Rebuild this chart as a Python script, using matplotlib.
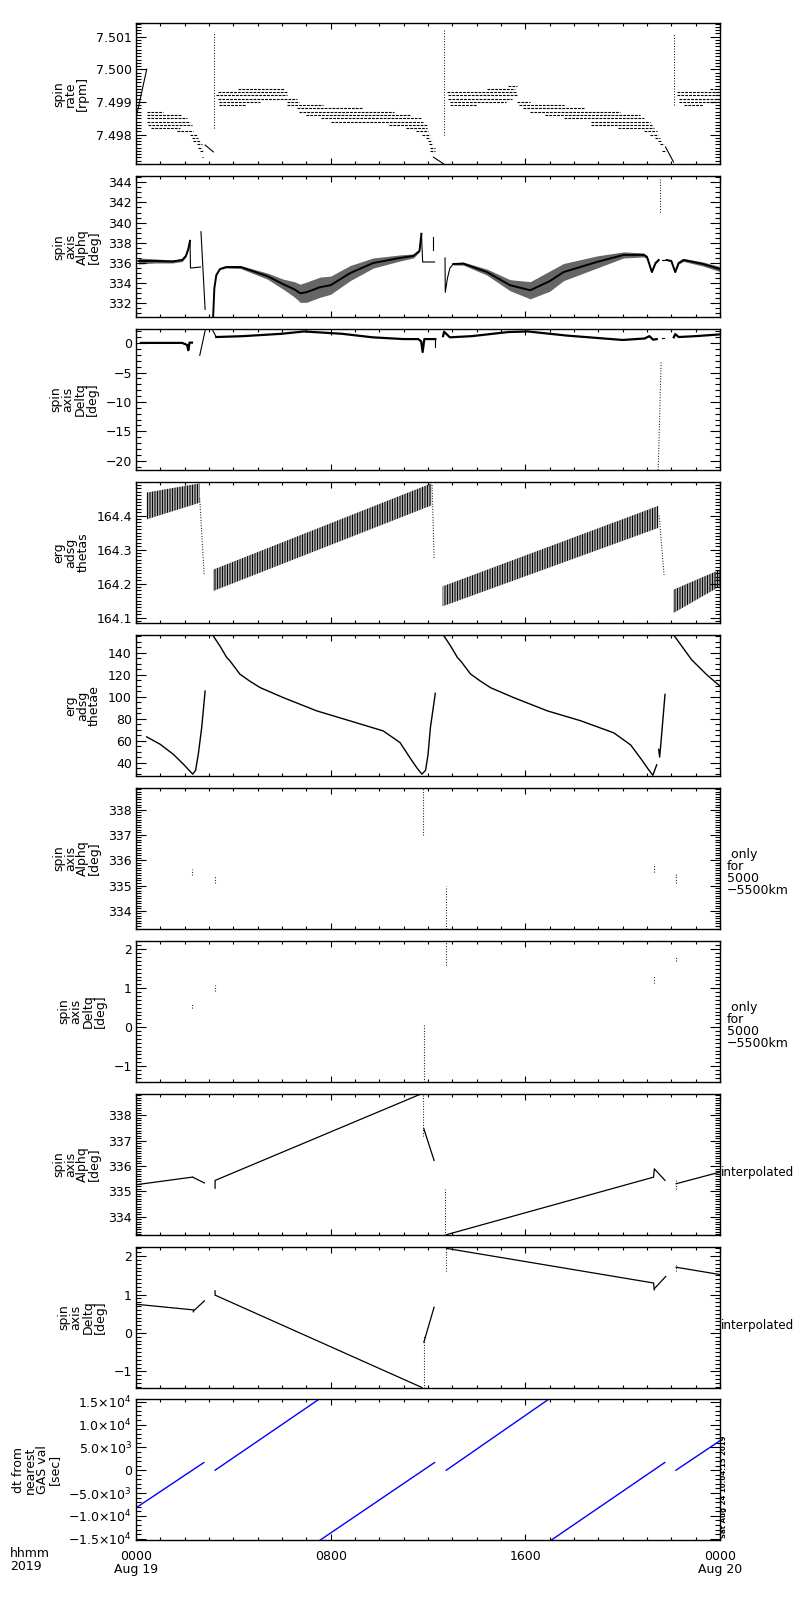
import matplotlib
matplotlib.use("Agg")
import matplotlib.pyplot as plt
from matplotlib.ticker import FixedLocator, MultipleLocator
import numpy as np

plt.rcParams['font.family'] = ['DejaVu Sans']
plt.rcParams['hatch.linewidth'] = 0.7

# ---------------- panel 1: spin rate [rpm] (quantised levels) ----------------
p1_ramp_t = [0.03, 0.44]
p1_ramp_v = [7.4986, 7.5000]
p1_level = [7.4987, 7.4986, 7.4985, 7.4984, 7.4983, 7.4982, 7.4981, 7.4980, 7.4979, 7.4978,
            7.4977, 7.4976, 7.4975, 7.4973,
            7.4994, 7.4993, 7.4992, 7.4991, 7.4990, 7.4989, 7.4990, 7.4989, 7.4988, 7.4987,
            7.4986, 7.4985, 7.4984, 7.4983, 7.4982, 7.4981, 7.4980, 7.4979, 7.4978, 7.4977,
            7.4976, 7.4975,
            7.4995, 7.4994, 7.4993, 7.4992, 7.4991, 7.4990, 7.4989, 7.4990, 7.4989, 7.4988,
            7.4987, 7.4986, 7.4985, 7.4984, 7.4983, 7.4982, 7.4981, 7.4980, 7.4979, 7.4978,
            7.4977, 7.4975,
            7.4994, 7.4993, 7.4992, 7.4991, 7.4990, 7.4989]
p1_t0 = [0.44, 0.44, 0.44, 0.44, 0.50, 0.60, 1.67, 2.20, 2.30, 2.36,
         2.49, 2.56, 2.63, 2.70,
         4.20, 3.38, 3.30, 3.38, 3.40, 3.40, 6.19, 6.20, 6.60, 6.70,
         7.00, 7.60, 8.00, 10.40, 11.10, 11.50, 11.75, 11.90, 12.00, 12.05,
         12.08, 12.08,
         15.30, 14.42, 12.77, 12.84, 12.84, 12.90, 12.90, 15.65, 15.72, 15.90,
         16.20, 16.80, 17.57, 18.70, 18.70, 19.80, 20.86, 21.13, 21.34, 21.47,
         21.54, 21.61,
         23.60, 22.23, 22.23, 22.30, 22.30, 22.50]
p1_t1 = [1.12, 1.88, 2.08, 2.22, 2.29, 1.81, 2.36, 2.49, 2.55, 2.63,
         2.70, 2.72, 2.77, 2.77,
         6.10, 6.19, 6.20, 6.60, 5.10, 4.50, 6.70, 7.70, 9.34, 10.60,
         11.30, 11.70, 11.80, 11.95, 11.95, 12.00, 12.08, 12.08, 12.15, 12.22,
         12.27, 12.30,
         15.65, 15.58, 15.65, 15.65, 15.45, 15.20, 14.00, 16.20, 17.57, 18.40,
         19.90, 20.70, 20.86, 21.13, 21.20, 21.27, 21.40, 21.47, 21.54, 21.61,
         21.68, 21.75,
         24.00, 24.00, 24.00, 24.00, 24.00, 23.30]
p1_solid_t = [[2.84, 3.18], [12.22, 12.63], [21.76, 22.09]]
p1_solid_v = [[7.49768, 7.49747], [7.49731, 7.49711], [7.49762, 7.49716]]
p1_spike_t = [3.22, 12.67, 22.13]
p1_spike_lo = [7.4982, 7.4980, 7.4989]
p1_spike_hi = [7.5011, 7.5012, 7.5011]

# ---------------- panel 2: spin axis alpha [deg] ----------------
p2_band_t = [[0.1, 0.8, 1.5, 1.9, 2.05, 2.15, 2.22],
             [3.17, 3.22, 3.3, 3.45, 3.7, 4.3, 5.4, 6.05, 6.5, 6.75, 7.0, 7.56, 8.0, 8.8,
              9.75, 10.85, 11.4, 11.65, 11.73],
             [13.04, 13.45, 14.42, 15.37, 16.2, 17.0, 17.57, 18.94, 20.04, 20.86, 21.0,
              21.2, 21.35, 21.48],
             [21.8, 22.0, 22.16, 22.3, 22.5, 23.3, 24.0]]
p2_band_v = [[336.2, 336.2, 336.15, 336.3, 336.7, 337.4, 338.2],
             [330.7, 333.5, 334.8, 335.4, 335.6, 335.6, 334.7, 333.9, 333.4, 333.0, 333.1,
              333.6, 333.8, 335.0, 336.0, 336.5, 336.7, 337.2, 338.9],
             [335.9, 335.94, 335.1, 333.8, 333.3, 334.2, 335.1, 336.1, 336.8, 336.8, 336.6,
              335.1, 336.0, 336.3],
             [336.3, 336.2, 335.1, 336.0, 336.3, 335.9, 335.4]]
p2_band_hw = [[0.3, 0.2, 0.15, 0.15, 0.1, 0.1, 0.05],
              [0, 0, 0, 0.05, 0.1, 0.15, 0.3, 0.5, 0.75, 0.9, 1.0, 1.0, 0.9, 0.75, 0.5,
               0.3, 0.2, 0.1, 0],
              [0.1, 0.15, 0.3, 0.55, 0.85, 1.0, 0.85, 0.6, 0.3, 0.2, 0.15, 0.05, 0.1, 0.1],
              [0.05, 0.05, 0.05, 0.1, 0.15, 0.2, 0.25]]
p2_line_t = [[2.22, 2.24, 2.65], [2.67, 2.84], [11.73, 11.78, 12.27], [12.2, 12.2],
             [12.7, 12.71, 12.8, 12.9, 13.04], [21.6, 21.75]]
p2_line_v = [[338.2, 335.5, 335.6], [339.1, 331.4], [338.9, 336.1, 336.1], [337.3, 338.6],
             [336.5, 333.1, 334.5, 335.5, 335.9], [336.3, 336.3]]
p2_spike_t = [21.52]
p2_spike_lo = [341.1]
p2_spike_hi = [344.4]

# ---------------- panel 3: spin axis delta [deg] ----------------
p3_t = [[0.2, 1.0, 1.9, 2.1, 2.15, 2.2, 2.3],
        [2.62, 2.86, 3.1, 3.3],
        [3.3, 4.4, 5.98, 6.9, 8.47, 9.72, 11.0, 11.6, 11.72, 11.78, 11.85, 12.3],
        [12.3, 12.3],
        [12.62, 12.66, 12.75, 12.9, 13.8, 15.3, 16.1, 17.7, 20.0, 20.9, 21.1, 21.25, 21.4],
        [21.62, 21.7],
        [22.1, 22.16, 22.3, 23.0, 24.0]]
p3_v = [[0.05, 0.05, 0.05, -0.3, -1.2, 0.1, 0.1],
        [-2.07, 2.5, 2.6, 1.05],
        [1.05, 1.2, 1.6, 2.0, 1.6, 1.0, 0.7, 0.7, 0.3, -1.5, 0.7, 0.7],
        [0.85, -0.6],
        [1.2, 1.95, 1.6, 1.0, 1.2, 1.9, 2.0, 1.3, 0.55, 0.8, 1.2, 0.6, 0.7],
        [0.95, 0.95],
        [1.0, 1.55, 1.05, 1.2, 1.5]]
p3_spike_t = [[21.58, 21.46]]
p3_spike_v = [[-3.3, -21.6]]

# ---------------- panel 4: erg adsg thetas ----------------
p4_band_t = [[0.44, 2.62], [3.17, 12.14], [12.6, 21.47], [22.08, 24.0]]
p4_band_lo = [[164.389, 164.438], [164.178, 164.43], [164.133, 164.364], [164.113, 164.192]]
p4_band_hi = [[164.468, 164.495], [164.241, 164.495], [164.192, 164.429], [164.182, 164.241]]
p4_drop_t = [[2.62, 2.8], [12.17, 12.25], [21.5, 21.7]]
p4_drop_v = [[164.45, 164.226], [164.49, 164.271], [164.40, 164.226]]

# ---------------- panel 5: erg adsg thetae ----------------
p5_t = [[0.44, 0.99, 1.53, 1.95, 2.33, 2.45, 2.56, 2.7, 2.84],
        [3.18, 3.45, 3.73, 3.86, 4.27, 4.68, 5.1, 6.05, 7.43, 8.8, 10.16, 10.85, 11.3,
         11.55, 11.75, 11.9, 12.0, 12.1, 12.3],
        [12.66, 12.93, 13.21, 13.34, 13.75, 14.16, 14.58, 15.53, 16.91, 18.28, 19.64, 20.33,
         20.8, 21.05, 21.24, 21.4],
        [21.48, 21.52, 21.6, 21.74],
        [22.13, 22.83, 23.45, 24.0]]
p5_v = [[63.4, 56.7, 47.6, 38.5, 29.5, 33, 47.6, 71.8, 105],
        [155, 146, 135.5, 132.5, 120.4, 114, 108.2, 99.1, 87, 77.9, 68.8, 58.2, 43, 35, 29.5,
         33, 47, 72, 103],
        [155, 146, 135.5, 132.5, 120.5, 114, 108, 99, 87, 78, 67, 56, 42, 34, 28.5, 38],
        [52, 45, 65, 102],
        [155, 133.6, 120, 109.5]]

# ---------------- panels 6/7: GAS values only for 5000-5500 km ----------------
p6_t = [2.32, 3.25, 11.8, 12.72, 21.3, 22.2]
p6_lo = [335.4, 335.1, 337.0, 333.3, 335.52, 335.08]
p6_hi = [335.65, 335.4, 338.86, 335.0, 335.86, 335.47]
p7_t = [2.32, 3.25, 11.83, 12.72, 21.3, 22.2]
p7_lo = [0.5, 0.93, -1.4, 1.6, 1.13, 1.69]
p7_hi = [0.62, 1.07, 0.05, 2.22, 1.32, 1.82]

# ---------------- panels 8/9: interpolated ----------------
p8_t = [[0, 2.31], [2.33, 2.81], [3.25, 3.25, 11.75], [11.83, 12.25],
        [12.77, 21.27, 21.3, 21.74], [22.2, 24.0]]
p8_v = [[335.26, 335.56], [335.56, 335.33], [335.12, 335.43, 338.86], [337.47, 336.22],
        [333.29, 335.56, 335.89, 335.43], [335.3, 335.76]]
p8_dot_t = [11.8, 12.69, 22.18]
p8_dot_lo = [337.2, 333.29, 335.1]
p8_dot_hi = [338.86, 335.1, 335.5]
p9_t = [[0, 2.36, 2.36], [2.36, 2.81], [3.25, 3.25, 3.3, 11.75], [11.83, 12.25],
        [12.77, 21.27, 21.3], [21.3, 21.77], [22.2, 24.0]]
p9_v = [[0.747, 0.60, 0.55], [0.57, 0.834], [1.097, 0.98, 0.97, -1.42], [-0.24, 0.67],
        [2.2, 1.30, 1.12], [1.15, 1.47], [1.71, 1.52]]
p9_dot_t = [11.83, 12.72, 22.2]
p9_dot_lo = [-1.42, 1.62, 1.60]
p9_dot_hi = [-0.05, 2.25, 1.77]

# ---------------- panel 10: dt from nearest GAS value [sec] ----------------
p10_t = [[0, 2.79], [3.25, 7.51], [7.55, 12.27], [12.75, 16.95], [17.05, 21.73], [22.19, 24.0]]
p10_v = [[-8235, 1691], [0, 15515], [-15368, 1691], [0, 15515], [-15368, 1691], [0, 6470]]

# ---------------- axes setup ----------------
ytitles = ["spin\nrate\n[rpm]", "spin\naxis\nAlphq\n[deg]", "spin\naxis\nDeltq\n[deg]",
           "erg\nadsg\nthetas", "erg\nadsg\nthetae", "spin\naxis\nAlphq\n[deg]",
           "spin\naxis\nDeltq\n[deg]", "spin\naxis\nAlphq\n[deg]", "spin\naxis\nDeltq\n[deg]",
           "dt from\nnearest\nGAS val\n[sec]"]
ylims = [(7.49709, 7.50141), (330.63, 344.6), (-21.6, 2.4), (164.084, 164.499), (27.9, 156.1),
         (333.29, 338.86), (-1.4, 2.22), (333.29, 338.86), (-1.42, 2.25), (-15368, 15515)]
yticks = [[7.498, 7.499, 7.500, 7.501], [332, 334, 336, 338, 340, 342, 344],
          [-20, -15, -10, -5, 0], [164.1, 164.2, 164.3, 164.4], [40, 60, 80, 100, 120, 140],
          [334, 335, 336, 337, 338], [-1, 0, 1, 2], [334, 335, 336, 337, 338], [-1, 0, 1, 2],
          [-15000, -10000, -5000, 0, 5000, 10000, 15000]]
ylabels = [["7.498", "7.499", "7.500", "7.501"], ["332", "334", "336", "338", "340", "342", "344"],
           ["\u221220", "\u221215", "\u221210", "\u22125", "0"],
           ["164.1", "164.2", "164.3", "164.4"], ["40", "60", "80", "100", "120", "140"],
           ["334", "335", "336", "337", "338"], ["\u22121", "0", "1", "2"],
           ["334", "335", "336", "337", "338"], ["\u22121", "0", "1", "2"],
           [r"$-$1.5$\times$10$^4$", r"$-$1.0$\times$10$^4$", r"$-$5.0$\times$10$^3$", "0",
            r"5.0$\times$10$^3$", r"1.0$\times$10$^4$", r"1.5$\times$10$^4$"]]
yminor = [0.0001, 0.5, 1, 0.01, 5, 0.1, 0.1, 0.1, 0.1, 1000]

fig = plt.figure(figsize=(8, 16), dpi=100)
axes = []
for i in range(10):
    top = 23.3 + i * 152.9
    ax = fig.add_axes([136 / 800, 1 - (top + 141) / 1600, 584 / 800, 141 / 1600])
    ax.set_xlim(0, 24)
    ax.set_ylim(*ylims[i])
    ax.xaxis.set_major_locator(FixedLocator([0, 8, 16, 24]))
    ax.xaxis.set_minor_locator(MultipleLocator(1))
    ax.set_yticks(yticks[i])
    ax.set_yticklabels(ylabels[i])
    ax.yaxis.set_minor_locator(MultipleLocator(yminor[i]))
    ax.tick_params(which='both', direction='in', top=True, right=True, labelsize=9, width=0.8)
    ax.tick_params(axis='y', which='major', length=7, pad=3)
    ax.tick_params(axis='y', which='minor', length=3.6)
    ax.tick_params(axis='x', which='major', length=4)
    ax.tick_params(axis='x', which='minor', length=2.5)
    for s in ax.spines.values():
        s.set_linewidth(1.0)
    ax.set_ylabel(ytitles[i], fontsize=9, linespacing=0.9, labelpad=5)
    if i < 9:
        ax.set_xticklabels([])
    axes.append(ax)

dash = (0, (2.5, 1.0))
dots = (0, (0.8, 1.6))

# panel 1
ax = axes[0]
ax.plot(p1_ramp_t, p1_ramp_v, color='k', lw=0.8)
ax.hlines(p1_level, p1_t0, p1_t1, colors='k', lw=0.8, linestyles=[dash])
for t, v in zip(p1_solid_t, p1_solid_v):
    ax.plot(t, v, color='k', lw=0.8)
ax.vlines(p1_spike_t, p1_spike_lo, p1_spike_hi, colors='k', lw=0.8, linestyles=[dots])

# panel 2
ax = axes[1]
for t, v, hw in zip(p2_band_t, p2_band_v, p2_band_hw):
    t, v, hw = np.array(t), np.array(v), np.array(hw)
    ax.fill_between(t, v - hw, v + hw, color='0.4', lw=0)
    ax.plot(t, v, color='k', lw=1.4)
for t, v in zip(p2_line_t, p2_line_v):
    ax.plot(t, v, color='k', lw=0.8)
ax.vlines(p2_spike_t, p2_spike_lo, p2_spike_hi, colors='k', lw=0.8, linestyles=[dots])

# panel 3
ax = axes[2]
for k, (t, v) in enumerate(zip(p3_t, p3_v)):
    ax.plot(t, v, color='k', lw=1.6 if k in (0, 2, 4, 6) else 0.8)
for t, v in zip(p3_spike_t, p3_spike_v):
    ax.plot(t, v, color='k', lw=0.8, ls=dots)

# panel 4
ax = axes[3]
for t, lo, hi in zip(p4_band_t, p4_band_lo, p4_band_hi):
    ax.fill_between(t, lo, hi, facecolor='white', edgecolor='k', hatch='||||||||||', lw=0)
for t, v in zip(p4_drop_t, p4_drop_v):
    ax.plot(t, v, color='k', lw=0.8, ls=dots)

# panel 5
ax = axes[4]
for t, v in zip(p5_t, p5_v):
    ax.plot(t, v, color='k', lw=1.0)

# panels 6 and 7
axes[5].vlines(p6_t, p6_lo, p6_hi, colors='k', lw=0.8, linestyles=[dots])
axes[6].vlines(p7_t, p7_lo, p7_hi, colors='k', lw=0.8, linestyles=[dots])

# panels 8 and 9
for t, v in zip(p8_t, p8_v):
    axes[7].plot(t, v, color='k', lw=0.9)
axes[7].vlines(p8_dot_t, p8_dot_lo, p8_dot_hi, colors='k', lw=0.8, linestyles=[dots])
for t, v in zip(p9_t, p9_v):
    axes[8].plot(t, v, color='k', lw=0.9)
axes[8].vlines(p9_dot_t, p9_dot_lo, p9_dot_hi, colors='k', lw=0.8, linestyles=[dots])

# panel 10
ax = axes[9]
for t, v in zip(p10_t, p10_v):
    ax.plot(t, v, color='blue', lw=1.0)
ax.set_xticklabels(["0000\nAug 19", "0800", "1600", "0000\nAug 20"], linespacing=0.95)
ax.tick_params(axis='x', which='major', pad=7)

# right-hand notes
note = " only\nfor\n5000\n\u22125500km"
for k in (5, 6):
    axes[k].text(1.012, 0.4, note, transform=axes[k].transAxes, fontsize=9,
                 ha='left', va='center', linespacing=0.9)
for k in (7, 8):
    axes[k].text(1.002, 0.44, "interpolated", transform=axes[k].transAxes, fontsize=8.6,
                 ha='left', va='center')

fig.text(10 / 800, 1 - 1547 / 1600, "hhmm\n2019", fontsize=9, ha='left', va='top',
         linespacing=0.95)
fig.text(721 / 800, 1 - 1538 / 1600, "Sat Aug 24 10:04:15 2019", fontsize=5, rotation=90,
         ha='left', va='bottom', weight='bold')

fig.savefig("out.png", dpi=100)
